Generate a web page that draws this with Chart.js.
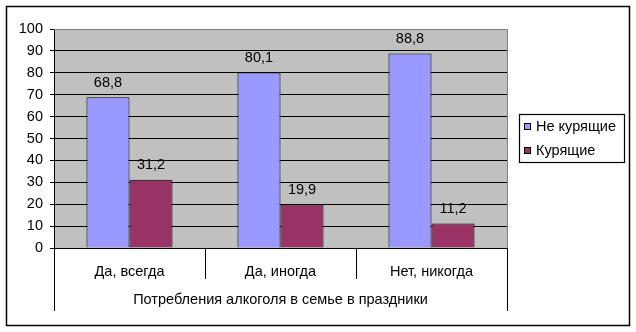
<!DOCTYPE html>
<html><head><meta charset="utf-8">
<script src="https://cdn.jsdelivr.net/npm/chart.js@4"></script>
<style>html,body{margin:0;padding:0;background:#fff}#wrap{width:636px;height:332px}</style>
</head><body><div id="wrap"><canvas id="c" width="636" height="332"></canvas></div>
<script>
const categories = ['Да, всегда', 'Да, иногда', 'Нет, никогда'];
const seriesNames = ['Не курящие', 'Курящие'];
const nonSmokers = [68.8, 80.1, 88.8];
const smokers = [31.2, 19.9, 11.2];
const groupLabel = 'Потребления алкоголя в семье в праздники';
const yTicks = [0, 10, 20, 30, 40, 50, 60, 70, 80, 90, 100];
const colors = ['#9999FF', '#993366'];
const FONT = '"Liberation Sans", Arial, sans-serif';
const FS = 14.5;

const excelPlugin = {
  id: 'excel',
  beforeDraw(chart) {
    const {ctx, chartArea: a} = chart;
    ctx.save();
    ctx.fillStyle = '#C0C0C0';
    ctx.fillRect(a.left, a.top, a.right - a.left, a.bottom - a.top);
    ctx.restore();
  },
  afterDatasetsDraw(chart) {
    const {ctx} = chart;
    ctx.save();
    ctx.font = FS + 'px ' + FONT;
    ctx.fillStyle = '#000';
    ctx.textAlign = 'center';
    ctx.textBaseline = 'bottom';
    chart.data.datasets.forEach((ds, di) => {
      chart.getDatasetMeta(di).data.forEach((bar, i) => {
        ctx.fillText(String(ds.data[i]).replace('.', ','), bar.x, bar.y - 7);
      });
    });
    ctx.restore();
  },
  afterDraw(chart) {
    const {ctx, chartArea: a} = chart;
    const xs = chart.scales.x;
    ctx.save();
    ctx.strokeStyle = '#808080';
    ctx.lineWidth = 1;
    ctx.beginPath();
    ctx.moveTo(a.left, Math.round(a.top) + 0.5);
    ctx.lineTo(a.right + 0.5, Math.round(a.top) + 0.5);
    ctx.lineTo(a.right + 0.5, a.bottom);
    ctx.stroke();
    ctx.strokeStyle = '#000';
    const n = categories.length;
    const bounds = [];
    for (let i = 0; i <= n; i++) {
      let x;
      if (i === 0) x = a.left;
      else if (i === n) x = a.right;
      else x = (xs.getPixelForTick(i - 1) + xs.getPixelForTick(i)) / 2;
      bounds.push(Math.round(x) + 0.5);
    }
    bounds.forEach((x, i) => {
      const outer = (i === 0 || i === n);
      ctx.beginPath();
      ctx.moveTo(x, a.bottom);
      ctx.lineTo(x, a.bottom + (outer ? 63 : 31));
      ctx.stroke();
    });
    ctx.lineWidth = 1.5;
    ctx.strokeRect(6.5, 6.5, 623, 319);
    ctx.lineWidth = 1.2;
    ctx.strokeRect(519.5, 114.5, 105, 48);
    ctx.lineWidth = 1;
    ctx.font = FS + 'px ' + FONT;
    ctx.textAlign = 'left';
    ctx.textBaseline = 'middle';
    chart.data.datasets.forEach((ds, di) => {
      const cy = 127 + di * 24;
      ctx.fillStyle = ds.backgroundColor;
      ctx.fillRect(524, cy - 4, 7, 7);
      ctx.strokeStyle = '#000';
      ctx.strokeRect(524.5, cy - 3.5, 6, 6);
      ctx.fillStyle = '#000';
      ctx.fillText(ds.label, 536, cy);
    });
    ctx.restore();
  }
};

new Chart(document.getElementById('c'), {
  type: 'bar',
  data: {
    labels: categories,
    datasets: [
      {label: seriesNames[0], data: nonSmokers, backgroundColor: colors[0], borderColor: '#000', borderWidth: 1},
      {label: seriesNames[1], data: smokers, backgroundColor: colors[1], borderColor: '#000', borderWidth: 1}
    ]
  },
  options: {
    responsive: false,
    animation: false,
    layout: {padding: {left: 0, top: 29, right: 129, bottom: 0}},
    categoryPercentage: 0.57,
    barPercentage: 1,
    plugins: {legend: {display: false}, tooltip: {enabled: false}},
    scales: {
      x: {
        grid: {display: false},
        border: {display: true, color: '#000'},
        ticks: {color: '#000', font: {family: FONT, size: FS}, padding: 7, maxRotation: 0},
        title: {display: true, text: groupLabel, color: '#000', font: {family: FONT, size: FS}, padding: {top: 0, bottom: 23}},
        afterFit(s) { s.height = 84; }
      },
      y: {
        min: 0, max: 100,
        afterBuildTicks(s) { s.ticks = yTicks.map(v => ({value: v})); },
        grid: {color: '#000', tickLength: 4, drawTicks: true},
        border: {display: true, color: '#000'},
        ticks: {color: '#000', font: {family: FONT, size: FS}, padding: 7},
        afterFit(s) { s.width = 54; }
      }
    }
  },
  plugins: [excelPlugin]
});
</script></body></html>
